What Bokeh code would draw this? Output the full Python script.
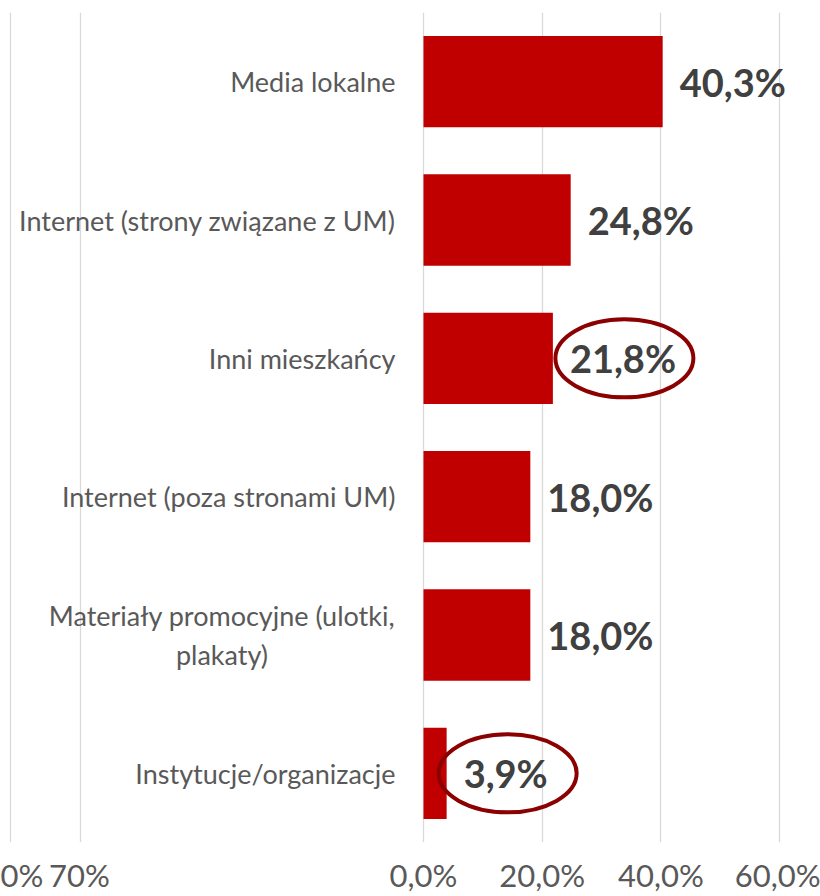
from bokeh.plotting import figure
from bokeh.models import ColumnDataSource, FactorRange, Range1d, FixedTicker, Grid
from bokeh.core.properties import value
from bokeh.embed import file_html
from bokeh.resources import INLINE

# ---- data ----
categories = [
    "Media lokalne",
    "Internet (strony związane z UM)",
    "Inni mieszkańcy",
    "Internet (poza stronami UM)",
    "Materiały promocyjne (ulotki,\nplakaty)",
    "Instytucje/organizacje",
]
values = [40.3, 24.8, 21.8, 18.0, 18.0, 3.9]
value_labels = ["40,3%", "24,8%", "21,8%", "18,0%", "18,0%", "3,9%"]
highlighted = ["Inni mieszkańcy", "Instytucje/organizacje"]
tick_values = [0, 20, 40, 60]
tick_labels = ["0,0%", "20,0%", "40,0%", "60,0%"]
ghost_ticks = [60, 70]          # gridlines of the neighbouring (cut-off) chart
ghost_labels = ["0%", "70%"]    # their visible labels

# ---- styling / layout constants ----
FONT = "Lato"
W, H = 820, 896
PX_PER_UNIT = 5.935      # pixels per percentage point on the main scale
ZERO_PX = 423            # screen x of the 0% line
G_PX_PER_UNIT = 7.0      # ghost chart scale
G_FIRST_PX = 10          # screen x of the first ghost gridline
GHOST_LABEL_PX = [18, 79]  # screen x centres of the visible ghost labels
BAR = "#C00000"
RING = "#8B0000"
GRID = "#D9D9D9"
LABEL_GAP = 17
CAT_GAP = 28
MULTI_FIRST_LINE_W = 347

x_start = -ZERO_PX / PX_PER_UNIT
x_end = (W - ZERO_PX) / PX_PER_UNIT
g_start = ghost_ticks[0] - G_FIRST_PX / G_PX_PER_UNIT
g_end = g_start + W / G_PX_PER_UNIT

p = figure(
    width=W, height=H,
    y_range=FactorRange(factors=categories[::-1], range_padding=0),
    x_range=Range1d(x_start, x_end),
    y_axis_location=None,
    output_backend="svg", toolbar_location=None,
    min_border_left=0, min_border_right=0, min_border_top=12, min_border_bottom=0,
)
p.outline_line_color = None
p.background_fill_color = "white"
p.border_fill_color = "white"

p.extra_x_ranges = {"ghost": Range1d(g_start, g_end)}

# grids
p.ygrid.visible = False
p.xgrid.ticker = FixedTicker(ticks=tick_values)
p.xgrid.grid_line_color = GRID
p.xgrid.grid_line_width = 1.3
ghost_grid = Grid(dimension=0, ticker=FixedTicker(ticks=ghost_ticks), x_range_name="ghost",
                  grid_line_color=GRID, grid_line_width=1.3)
p.add_layout(ghost_grid)

# main axis (also carries the visible labels of the cut-off chart on the left)
ghost_pos = [round((px - ZERO_PX) / PX_PER_UNIT, 3) for px in GHOST_LABEL_PX]
ax = p.xaxis[0]
ax.ticker = FixedTicker(ticks=ghost_pos + tick_values)
overrides = {t: l for t, l in zip(tick_values, tick_labels)}
overrides.update({t: l for t, l in zip(ghost_pos, ghost_labels)})
ax.major_label_overrides = overrides
ax.axis_line_color = None
ax.major_tick_line_color = None
ax.minor_tick_line_color = None
ax.major_label_text_font = FONT
ax.major_label_text_font_size = "31px"
ax.major_label_text_color = "#595959"
ax.major_label_text_line_height = 1.0
ax.major_label_standoff = 7

src = ColumnDataSource(dict(
    cat=categories,
    val=values,
    lab=value_labels,
    calign=["center" if "\n" in c else "right" for c in categories],
    cdx=[-(CAT_GAP + MULTI_FIRST_LINE_W / 2) if "\n" in c else -CAT_GAP for c in categories],
))

p.hbar(y="cat", left=0, right="val", height=0.66, source=src, color=BAR, line_color=None)

p.text(x=0, y="cat", text="cat", source=src, x_offset="cdx", text_align="calign",
       text_baseline="middle", text_font=value(FONT), text_font_size="27px",
       text_color="#595959", text_line_height=1.17)

p.text(x="val", y="cat", text="lab", source=src, x_offset=LABEL_GAP, text_align="left",
       text_baseline="middle", text_font=value(FONT), text_font_style="bold",
       text_font_size="38px", text_color="#404040")

hi_idx = [categories.index(h) for h in highlighted]
ring_src = ColumnDataSource(dict(
    cat=[categories[i] for i in hi_idx],
    ex=[values[i] + (LABEL_GAP + 10.5 * len(value_labels[i]) + 2) / PX_PER_UNIT for i in hi_idx],
))
p.ellipse(x="ex", y="cat", width=138, height=78, width_units="screen", height_units="screen",
          source=ring_src, fill_color=None, line_color=RING, line_width=4)

open("out.html", "w").write(file_html(p, INLINE))
